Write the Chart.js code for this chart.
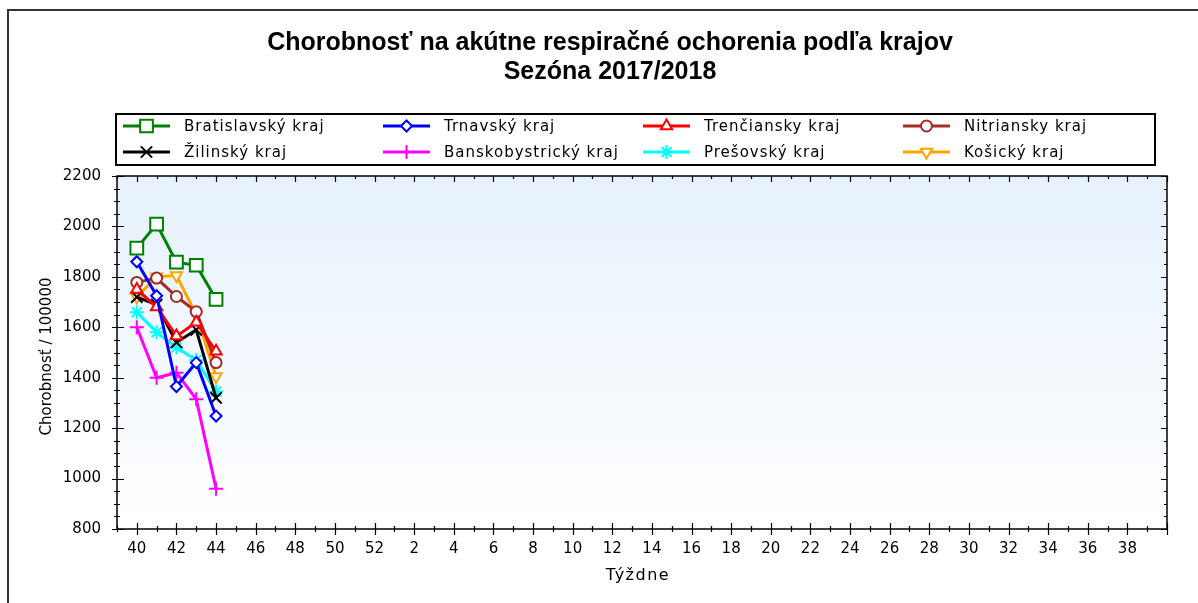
<!DOCTYPE html>
<html><head><meta charset="utf-8">
<script src="https://cdn.jsdelivr.net/npm/chart.js@4/dist/chart.umd.min.js"></script>
<style>html,body{margin:0;padding:0;background:#fff;overflow:hidden}#wrap{width:1198px;height:603px;position:relative}</style>
</head><body><div id="wrap"><canvas id="c" width="1198" height="603"></canvas></div>
<script>
// ---- data ----
const titleLines = ['Chorobnosť na akútne respiračné ochorenia podľa krajov', 'Sezóna 2017/2018'];
const weeks = [40,41,42,43,44,45,46,47,48,49,50,51,52,1,2,3,4,5,6,7,8,9,10,11,12,13,14,15,16,17,18,19,20,21,22,23,24,25,26,27,28,29,30,31,32,33,34,35,36,37,38,39];
const observedWeeks = [40,41,42,43,44];
const regions = ['Bratislavský kraj','Trnavský kraj','Trenčiansky kraj','Nitriansky kraj','Žilinský kraj','Banskobystrický kraj','Prešovský kraj','Košický kraj'];
const bratislavsky    = [1914, 2009, 1858, 1846, 1711];
const trnavsky        = [1860, 1725, 1365, 1460, 1248];
const trenciansky     = [1750, 1680, 1565, 1620, 1505];
const nitriansky      = [1778, 1795, 1722, 1662, 1460];
const zilinsky        = [1720, 1690, 1540, 1590, 1320];
const banskobystricky = [1600, 1400, 1420, 1315, 960];
const presovsky       = [1660, 1580, 1520, 1470, 1345];
const kosicky         = [1720, 1800, 1805, 1650, 1405];
const yMin = 800, yMax = 2200, yStep = 200, yMinorStep = 50;
const yTitle = 'Chorobnosť / 100000';
const xTitle = 'Týždne';

// ---- styles ----
const seriesValues = [bratislavsky, trnavsky, trenciansky, nitriansky, zilinsky, banskobystricky, presovsky, kosicky];
const styles = [
  {c:'#008000', ps:'rect', r:9, rot:0},
  {c:'#0000ff', ps:'rectRot', r:5.5, rot:0},
  {c:'#ff0000', ps:'triangle', r:6.5, rot:0},
  {c:'#a52a2a', ps:'circle', r:5.5, rot:0},
  {c:'#000000', ps:'crossRot', r:8, rot:0},
  {c:'#ff00ff', ps:'cross', r:7, rot:0},
  {c:'#00ffff', ps:'star', r:7, rot:0},
  {c:'#ffa500', ps:'triangle', r:6.5, rot:180}
];
const FONT = 'DejaVu Sans';

const datasets = regions.map((name, k) => ({
  label: name,
  data: seriesValues[k].map((v, i) => ({x: weeks.indexOf(observedWeeks[i]), y: v})),
  borderColor: styles[k].c,
  backgroundColor: '#ffffff',
  pointBorderColor: styles[k].c,
  pointBackgroundColor: '#ffffff',
  borderWidth: 3,
  pointBorderWidth: 2,
  pointRadius: styles[k].r,
  pointStyle: styles[k].ps,
  pointRotation: styles[k].rot,
  tension: 0,
  showLine: true
}));

function drawMarker(ctx, st, x, y) {
  ctx.save();
  ctx.strokeStyle = st.c; ctx.fillStyle = '#ffffff'; ctx.lineWidth = 2;
  if (Chart.helpers && Chart.helpers.drawPoint) {
    Chart.helpers.drawPoint(ctx, {pointStyle: st.ps, radius: st.r, rotation: st.rot, borderWidth: 2}, x, y);
  } else {
    ctx.beginPath(); ctx.arc(x, y, st.r, 0, Math.PI*2); ctx.fill(); ctx.stroke();
  }
  ctx.restore();
}

const decor = {
  id: 'decor',
  beforeDraw(chart) {
    const ctx = chart.ctx, a = chart.chartArea;
    ctx.save();
    ctx.fillStyle = '#ffffff'; ctx.fillRect(0, 0, chart.width, chart.height);
    // outer frame (top & left)
    ctx.strokeStyle = '#333'; ctx.lineWidth = 2;
    ctx.beginPath(); ctx.moveTo(8, chart.height); ctx.lineTo(8, 10); ctx.lineTo(chart.width, 10); ctx.stroke();
    // plot background gradient
    const g = ctx.createLinearGradient(0, a.top, 0, a.bottom);
    g.addColorStop(0, '#e6f1fc'); g.addColorStop(1, '#ffffff');
    ctx.fillStyle = g; ctx.fillRect(a.left, a.top, a.right - a.left, a.bottom - a.top);
    // title
    ctx.fillStyle = '#000'; ctx.textAlign = 'center'; ctx.textBaseline = 'middle';
    ctx.font = 'bold 25px "Liberation Sans", Arial, sans-serif';
    ctx.fillText(titleLines[0], 610, 43);
    ctx.fillText(titleLines[1], 610, 72);
    // legend
    ctx.strokeStyle = '#000'; ctx.lineWidth = 2;
    ctx.strokeRect(116, 114, 1155 - 116, 165 - 114);
    ctx.font = '15px "' + FONT + '"'; ctx.textAlign = 'left';
    ctx.letterSpacing = '1px';
    regions.forEach((name, k) => {
      const row = k < 4 ? 0 : 1, col = k % 4;
      const sx = 123 + col * 260, sy = row ? 152 : 126;
      ctx.strokeStyle = styles[k].c; ctx.lineWidth = 3;
      ctx.beginPath(); ctx.moveTo(sx, sy); ctx.lineTo(sx + 47, sy); ctx.stroke();
      drawMarker(ctx, styles[k], sx + 23.5, sy);
      ctx.fillStyle = '#000';
      ctx.fillText(name, sx + 61, sy + 1);
    });
    // axis titles
    ctx.font = '16px "' + FONT + '"';
    ctx.letterSpacing = '1.5px';
    ctx.textAlign = 'center';
    ctx.fillText(xTitle, (a.left + a.right) / 2 - 4, 576);
    ctx.letterSpacing = '0px';
    ctx.font = '15px "' + FONT + '"';
    ctx.save();
    ctx.translate(47, (a.top + a.bottom) / 2 + 4);
    ctx.rotate(-Math.PI / 2);
    ctx.fillText(yTitle, 0, 0);
    ctx.restore();
    ctx.restore();
  },
  afterDraw(chart) {
    const ctx = chart.ctx, a = chart.chartArea, xs = chart.scales.x, ys = chart.scales.y;
    ctx.save();
    ctx.strokeStyle = '#000'; ctx.lineWidth = 1.5;
    ctx.strokeRect(a.left, a.top, a.right - a.left, a.bottom - a.top);
    ctx.lineWidth = 1.2;
    ctx.beginPath();
    for (let v = yMin; v <= yMax; v += yMinorStep) {
      const p = Math.round(ys.getPixelForValue(v)) + 0.5;
      const major = (v - yMin) % yStep === 0;
      ctx.moveTo(a.left - (major ? 5 : 3), p); ctx.lineTo(a.left + (major ? 7 : 3), p);
      ctx.moveTo(a.right, p); ctx.lineTo(a.right - (major ? 6 : 3), p);
    }
    for (let i = Math.ceil(xs.min); i <= xs.max; i++) {
      const p = Math.round(xs.getPixelForValue(i)) + 0.5;
      const major = i % 2 === 0;
      ctx.moveTo(p, a.bottom - (major ? 6 : 3)); ctx.lineTo(p, a.bottom + (major ? 6 : 3));
      ctx.moveTo(p, a.top); ctx.lineTo(p, a.top + (major ? 6 : 3));
    }
    ctx.stroke();
    ctx.restore();
  }
};

new Chart(document.getElementById('c'), {
  type: 'line',
  data: {datasets},
  options: {
    responsive: false, animation: false, devicePixelRatio: 1,
    layout: {padding: {top: 176, left: 0, right: 31, bottom: 0}},
    plugins: {legend: {display: false}, title: {display: false}, tooltip: {enabled: false}},
    scales: {
      x: {
        type: 'linear', min: -1, max: 52,
        afterFit: s => { s.height = 74; },
        grid: {display: false, drawTicks: false}, border: {display: false},
        ticks: {
          stepSize: 1, autoSkip: false, maxRotation: 0, padding: 11, color: '#000',
          font: {family: FONT, size: 15},
          callback: v => (v >= 0 && v < weeks.length && v % 2 === 0) ? String(weeks[v]) : ''
        }
      },
      y: {
        min: yMin, max: yMax,
        afterFit: s => { s.width = 117; },
        grid: {display: false, drawTicks: false}, border: {display: false},
        ticks: {stepSize: yStep, padding: 16, color: '#000', font: {family: FONT, size: 15},
          callback: v => String(v)}
      }
    }
  },
  plugins: [decor]
});
</script>
</body></html>
